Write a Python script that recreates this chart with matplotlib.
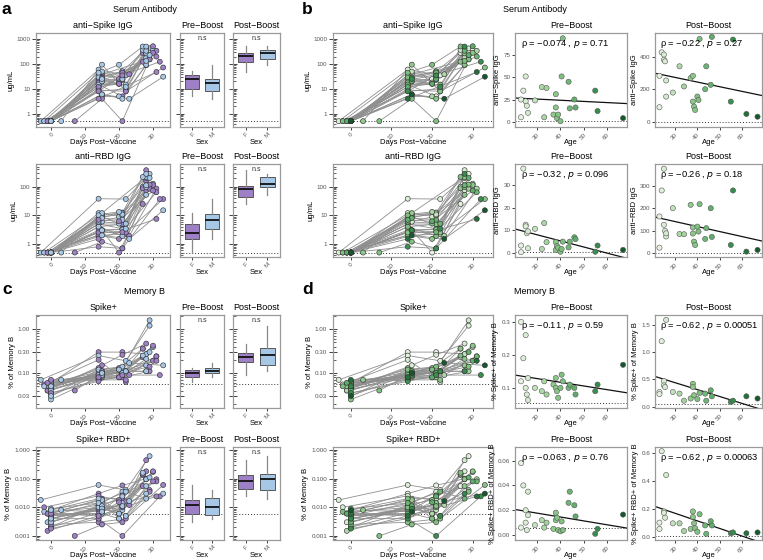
import numpy as np
import matplotlib
matplotlib.use("Agg")
import matplotlib.pyplot as plt
from matplotlib import cbook
from matplotlib.colors import LinearSegmentedColormap

plt.rcParams['font.family'] = ['Liberation Sans', 'DejaVu Sans']

# ---- subjects ----
age = [23, 23, 24, 25, 25, 25.5, 26, 26, 29, 32, 33, 34, 37, 38, 38, 38.5, 39, 40, 40.5, 41,
       43.5, 44, 46, 46.5, 55, 56, 62, 67]
sex = ['F', 'F', 'M', 'F', 'M', 'M', 'F', 'M', 'M', 'F', 'M', 'F', 'M', 'F', 'F', 'M', 'F', 'F',
       'M', 'M', 'F', 'M', 'M', 'F', 'F', 'M', 'F', 'M']
nan = float('nan')

# sampling days
day0 = [0, 0, -3, 0, -1, 0, -2, 0, 0, -1, 0, 0, 3, 0, -1, 0, 0, 7, 0, -2, 0, 0, 0, -1, 0, 0, 0, 0]
day1 = [14, 15, 14, 15, 14, 15, 14, 14, 15, 14, 15, 14, 15, 14, 14, 15, 14, 15, 14, 14, 15, 14,
        15, 14, 14, 15, 14, 15]
day2 = [21, 20, 22, 21, 21, 20, 22, 21, 21, 23, 20, 21, 22, 21, 20, 21, 22, 21, 21, 20, 21, 22,
        21, 20, 21, 22, 21, 23]
day3 = [28, 27, 29, 28, 30, 27, 28, 29, 28, 31, 27, 29, 28, 30, 27, 28, 33, 29, 28, 27, 31, 28,
        29, 30, 32, 28, 31, 33]

# serum anti-Spike IgG (ug/mL)
spike_base = [0.5] * 28
spike_d1 = [15, 40, 60, 30, 25, 20, 8, 35, 50, 12, 5, 22, 95, 10, 18, 6, 9, 4, 30, 45, 28, 15,
            20, 12, 8, 25, 4, 6]
spike_pre = [5, 25, 35, 51, 23, 18, 10, nan, 24, 39, 5, 38, 8, 31, 16, 4, 8, 0.5, 51, 94, 45,
             15, 25, 16, 35, 12, nan, 4]
spike_post = [90, 285, 431, 417, 385, 375, 256, 156, 181, 344, nan, 219, 271, 285, 125, 94, 73,
              156, 135, 514, 202, 344, 229, 527, 125, 510, 48, 31]

# serum anti-RBD IgG (ug/mL)
rbd_base = [0.5] * 28
rbd_d1 = [5, 3, 38, 10, 8, 6, 2, 12, 9, 3, 11, 4, 12, 5, 2, 3, 2.5, 1.2, 4, 10, 3, 6, 8, 7, 0.8,
          3, 1.5, 2]
rbd_pre = [3.4, 0.5, 37, 12.5, 11.8, 8.8, 2.2, 9.6, 10.7, 1.9, 13.2, 4.9, nan, 4.9, 1.5, 3.2,
           2.5, 0.7, 1.9, 5.1, 2.6, 5.1, 7, 6.2, 0.7, 3.4, nan, 1.5]
rbd_post = [164, 25, 280, 377, 127, 100, 75, 89, 201, 86, nan, 85, 216, 115, 88, 52, 37, 119, 97,
            219, 64, 112, 201, 73, 37, 280, 7.5, 15]

# memory B, Spike+ (% of memory B)
spb_base = [0.06, 0.05, 0.07, 0.045, 0.04, 0.065, 0.055, 0.03, 0.05, 0.04, 0.06, 0.035, 0.07,
            0.045, 0.05, 0.025, 0.06, 0.04, 0.055, 0.05, 0.045, 0.065, 0.04, 0.06, 0.035, 0.05,
            0.07, 0.03]
spb_d1 = [0.3, 0.1, 0.25, 0.15, 0.09, 0.08, 0.2, 0.12, 0.1, 0.08, 0.11, 0.07, 0.09, 0.13, 0.1,
          0.085, 0.07, 0.1, 0.12, 0.09, 0.11, 0.08, 0.1, 0.075, 0.065, 0.09, 0.08, 0.1]
spb_pre = [0.30, 0.12, 0.19, 0.26, 0.1, 0.08, 0.063, 0.13, 0.1, 0.09, 0.12, 0.08, 0.11, 0.1, 0.13,
           0.09, 0.07, 0.1, 0.14, 0.12, 0.1, 0.11, 0.1, 0.08, 0.09, 0.11, nan, 0.17]
spb_post = [0.27, 0.23, 1.2, 0.47, 0.39, 0.36, nan, 1.59, 0.27, 0.24, nan, 0.11, 0.15, 0.42, 0.36,
            0.21, nan, 0.14, nan, 0.25, 0.24, 0.11, 0.30, 0.19, 0.09, 0.11, 0.19, 0.15]

# memory B, Spike+ RBD+ (% of memory B)
rbb_base = [0.008, 0.004, 0.018, 0.006, 0.003, 0.005, 0.01, 0.002, 0.007, 0.0015, 0.005, 0.004,
            0.008, 0.003, 0.006, 0.002, 0.0025, 0.001, 0.004, 0.007, 0.005, 0.009, 0.003, 0.006,
            0.0018, 0.004, 0.006, 0.008]
rbb_d1 = [0.03, 0.01, 0.06, 0.02, 0.008, 0.006, 0.025, 0.012, 0.01, 0.005, 0.015, 0.004, 0.018,
          0.009, 0.012, 0.007, 0.003, 0.0025, 0.01, 0.02, 0.008, 0.014, 0.011, 0.006, 0.004,
          0.009, 0.005, 0.007]
rbb_pre = [0.058, 0.006, 0.04, 0.02, 0.01, 0.004, 0.016, 0.035, 0.008, 0.012, 0.006, 0.01, 0.005,
           0.012, 0.018, 0.014, 0.004, 0.003, 0.011, 0.004, 0.026, 0.035, 0.024, 0.015, 0.001,
           0.005, nan, 0.0165]
rbb_post = [0.10, 0.055, 0.61, 0.18, 0.17, 0.135, 0.44, nan, 0.095, 0.095, nan, 0.04, 0.055,
            0.18, 0.14, 0.095, 0.06, 0.035, nan, 0.16, 0.08, 0.02, 0.11, 0.08, 0.024, 0.03,
            0.024, 0.03]

stats = {
    'spike_pre': ('−0.074', '0.71'), 'spike_post': ('−0.22', '0.27'),
    'rbd_pre': ('−0.32', '0.096'), 'rbd_post': ('−0.26', '0.18'),
    'spb_pre': ('−0.11', '0.59'), 'spb_post': ('−0.62', '0.00051'),
    'rbb_pre': ('−0.063', '0.76'), 'rbb_post': ('−0.62', '0.00063'),
}

# ---- styling ----
W, H = 763, 560
fig = plt.figure(figsize=(W / 100, H / 100), dpi=100)
FCOL = '#9d80c6'
MCOL = '#a7c7e7'
sex_col = [FCOL if s == 'F' else MCOL for s in sex]
greens = LinearSegmentedColormap.from_list('g', ['#eaf5e4', '#8fca8a', '#3f9a55', '#11552a'])
age_col = [greens((a - 22) / 46) for a in age]
SPINE = '#9a9a9a'
TXT = '#555555'
TFS = 6.5   # panel title size
LFS = 5.5   # axis label size


def ax_at(x0, y0, x1, y1):
    ax = fig.add_axes([x0 / W, 1 - y1 / H, (x1 - x0) / W, (y1 - y0) / H])
    for s in ax.spines.values():
        s.set_color(SPINE)
        s.set_linewidth(0.9)
    ax.tick_params(labelsize=4.5, labelcolor=TXT, color='#222222', width=0.6, pad=1.2)
    return ax


def x_rot(ax, ticks, labels):
    ax.set_xticks(ticks)
    ax.set_xticklabels(labels, rotation=45, ha='right', va='top', rotation_mode='anchor')
    ax.tick_params(axis='x', length=2.2, pad=1.2)


def labels(ax, xl, yl):
    ax.set_xlabel(xl, fontsize=LFS)
    ax.xaxis.set_label_coords(0.5, -0.13)
    if yl:
        ax.set_ylabel(yl, fontsize=LFS, labelpad=1.5)


def log_y(ax, ylim, ticks, ticklabels):
    ax.set_yscale('log')
    ax.set_ylim(*ylim)
    ax.set_yticks(ticks)
    ax.set_yticklabels(ticklabels)
    ax.yaxis.set_minor_locator(matplotlib.ticker.LogLocator(base=10, subs=np.arange(2, 10)))
    ax.yaxis.set_minor_formatter(matplotlib.ticker.NullFormatter())
    ax.tick_params(axis='y', which='major', direction='inout', length=6)
    ax.tick_params(axis='y', which='minor', direction='in', length=2.5, color='#222222', width=0.5)


def traj(ax, series, colors, lod, title, ylim, ticks, ticklabels, ylabel):
    days = [day0, day1, day2, day3]
    for i in range(len(age)):
        pts = [(days[k][i], series[k][i]) for k in range(4) if not np.isnan(series[k][i])]
        ax.plot([p[0] for p in pts], [p[1] for p in pts], color='#8f8f8f', lw=0.6, zorder=1)
    for k in range(4):
        ax.scatter(days[k], series[k], c=colors, s=13, edgecolors='#333333', linewidths=0.45,
                   zorder=3)
    ax.axhline(lod, color='#333333', ls=(0, (1, 2)), lw=0.7, zorder=0)
    ax.set_xlim(-4.4, 35)
    x_rot(ax, [0, 10, 20, 30], ['0', '10', '20', '30'])
    log_y(ax, ylim, ticks, ticklabels)
    ax.set_title(title, fontsize=TFS, pad=3.5)
    labels(ax, 'Days Post−Vaccine', ylabel)


def box(ax, vals, lod, title, ylim, ticks):
    groups = []
    for g in ['F', 'M']:
        v = np.array([x for x, s in zip(vals, sex) if s == g and not np.isnan(x)])
        st = cbook.boxplot_stats(np.log10(v))[0]
        for key in ['med', 'q1', 'q3', 'whislo', 'whishi', 'mean']:
            st[key] = 10 ** st[key]
        st['fliers'] = []
        groups.append(st)
    bp = ax.bxp(groups, positions=[0, 1], widths=0.7, patch_artist=True, showfliers=False,
                medianprops=dict(color='#111111', lw=1.3),
                whiskerprops=dict(color='#888888', lw=0.9),
                capprops=dict(color='none'),
                boxprops=dict(edgecolor='#555555', lw=0.7))
    for patch, c in zip(bp['boxes'], [FCOL, MCOL]):
        patch.set_facecolor(c)
    ax.axhline(lod, color='#333333', ls=(0, (1, 2)), lw=0.7, zorder=0)
    ax.set_xlim(-0.6, 1.6)
    x_rot(ax, [0, 1], ['F', 'M'])
    log_y(ax, ylim, ticks, [])
    ax.set_title(title, fontsize=TFS, pad=3.5)
    labels(ax, 'Sex', None)
    ax.text(0.5, 0.94, 'n.s', transform=ax.transAxes, ha='center', va='center', fontsize=5,
            color='#333333')


def scat(ax, vals, key, lod, title, ylim, ticks, ylabel, xlim):
    a = np.array(age, float)
    v = np.array(vals, float)
    ok = ~np.isnan(v)
    ax.scatter(a[ok], v[ok], c=[age_col[i] for i in np.where(ok)[0]], s=14,
               edgecolors='#555555', linewidths=0.4, zorder=3)
    k, b = np.polyfit(a[ok], v[ok], 1)
    xx = np.array(xlim)
    ax.plot(xx, k * xx + b, color='#111111', lw=0.9, zorder=2)
    ax.axhline(lod, color='#333333', ls=(0, (1, 2)), lw=0.7, zorder=0)
    ax.set_xlim(*xlim)
    ax.set_ylim(*ylim)
    x_rot(ax, [30, 40, 50, 60], ['30', '40', '50', '60'])
    ax.set_yticks(ticks)
    ax.tick_params(axis='y', length=2.2)
    r, p = stats[key]
    ax.text(0.05, 0.88, f'ρ = {r} , $\\mathit{{p}}$ = {p}', transform=ax.transAxes,
            fontsize=6.7, va='center', ha='left')
    ax.set_title(title, fontsize=TFS, pad=3.5)
    labels(ax, 'Age', ylabel)


# rows (top, bottom) in pixels
R1, R2, R3, R4 = (33, 127), (164, 257), (315, 408), (447, 540)
XA, XPB, XPO = (36, 170), (180, 224), (233, 280)
XB, XS1, XS2 = (333, 493), (515, 627), (655, 762)

sp_lim = (0.29, 1800)
rb_lim = (0.35, 620)
mb_lim = (0.016, 2.1)
mr_lim = (0.00072, 1.27)
sp_t = ([1, 10, 100, 1000], ['1', '10', '100', '1000'])
rb_t = ([1, 10, 100], ['1', '10', '100'])
mb_t = ([0.03, 0.1, 0.3, 1.0], ['0.03', '0.10', '0.30', '1.00'])
mr_t = ([0.001, 0.01, 0.1, 1.0], ['0.001', '0.010', '0.100', '1.000'])

S_sp = [spike_base, spike_d1, spike_pre, spike_post]
S_rb = [rbd_base, rbd_d1, rbd_pre, rbd_post]
S_mb = [spb_base, spb_d1, spb_pre, spb_post]
S_mr = [rbb_base, rbb_d1, rbb_pre, rbb_post]

rows = [
    (R1, S_sp, 0.5, 'anti−Spike IgG', sp_lim, sp_t, 'ug/mL'),
    (R2, S_rb, 0.5, 'anti−RBD IgG', rb_lim, rb_t, 'ug/mL'),
    (R3, S_mb, 0.055, 'Spike+', mb_lim, mb_t, '% of Memory B'),
    (R4, S_mr, 0.0058, 'Spike+ RBD+', mr_lim, mr_t, '% of Memory B'),
]
for (top, bot), S, lod, title, lim, t, yl in rows:
    traj(ax_at(XA[0], top, XA[1], bot), S, sex_col, lod, title, lim, t[0], t[1], yl)
    box(ax_at(XPB[0], top, XPB[1], bot), S[2], lod, 'Pre−Boost', lim, t[0])
    box(ax_at(XPO[0], top, XPO[1], bot), S[3], lod, 'Post−Boost', lim, t[0])
    traj(ax_at(XB[0], top, XB[1], bot), S, age_col, lod, title, lim, t[0], t[1], yl)

scat_rows = [
    (R1, spike_pre, 'spike_pre', 0.5, (-6, 100), [0, 25, 50, 75], 'anti−Spike IgG',
     spike_post, 'spike_post', (-33, 551), [0, 200, 400]),
    (R2, rbd_pre, 'rbd_pre', 0.5, (-1.6, 39), [0, 10, 20, 30], 'anti−RBD IgG',
     rbd_post, 'rbd_post', (-16.5, 398), [0, 100, 200, 300]),
    (R3, spb_pre, 'spb_pre', 0.055, (0.039, 0.321), [0.1, 0.2, 0.3], '% Spike+ of Memory B',
     spb_post, 'spb_post', (-0.024, 1.68), [0.0, 0.5, 1.0, 1.5]),
    (R4, rbb_pre, 'rbb_pre', 0.0058, (-0.004, 0.071), [0.0, 0.02, 0.04, 0.06],
     '% Spike+ RBD+ of Memory B', rbb_post, 'rbb_post', (-0.024, 0.64), [0.0, 0.2, 0.4, 0.6]),
]
for (top, bot), pre, kpre, lod, plim, pt, yl, post, kpost, qlim, qt in scat_rows:
    scat(ax_at(XS1[0], top, XS1[1], bot), pre, kpre, lod, 'Pre−Boost', plim, pt, yl,
         (20.4, 68.7))
    scat(ax_at(XS2[0], top, XS2[1], bot), post, kpost, lod, 'Post−Boost', qlim, qt, yl,
         (21, 69))

# section headers and panel letters
for x, y, s in [(145, 10, 'Serum Antibody'), (535, 10, 'Serum Antibody'),
                (145, 292, 'Memory B'), (535, 292, 'Memory B')]:
    fig.text(x / W, 1 - y / H, s, ha='center', va='center', fontsize=6.5)
for x, y, s in [(2, 9, 'a'), (302, 9, 'b'), (2, 290, 'c'), (302, 290, 'd')]:
    fig.text(x / W, 1 - y / H, s, ha='left', va='center', fontsize=12.5, fontweight='bold')

fig.savefig('out.png', dpi=100)
